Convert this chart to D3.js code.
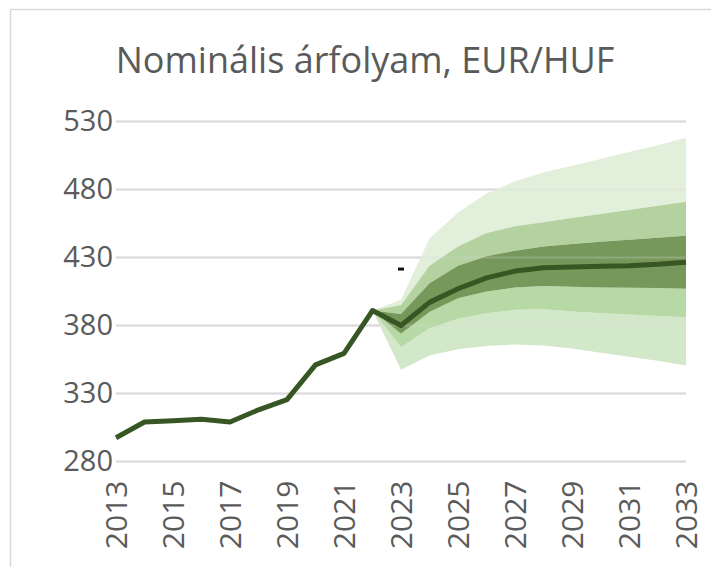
<!DOCTYPE html>
<html>
<head>
<meta charset="utf-8">
<script src="https://cdn.jsdelivr.net/npm/d3@7"></script>
<style>
  body { margin: 0; background: #fff; }
  svg { display: block; font-family: "Open Sans", sans-serif; }
</style>
</head>
<body>
<svg id="chart"></svg>
<script>
// Data
const title = "Nominális árfolyam, EUR/HUF";
const years = d3.range(2013, 2034);
const rate = [297.5, 309, 310, 311, 309, 318, 325.5, 351, 359.5, 391, 380, 397, 407, 415, 420, 422.5, 423, 423.5, 424, 425, 426.5];
const fanYears = [2022, 2023, 2024, 2025, 2026, 2027, 2028, 2029, 2030, 2031, 2032, 2033];
const lo3 = [391, 347.5, 358, 362.5, 365, 366, 365.3, 363, 360, 357, 354, 350.5];
const lo2 = [391, 364, 378, 385, 389, 391.5, 392, 390.3, 389, 388, 387, 386];
const lo1 = [391, 374, 390, 400, 405, 408, 409, 408.5, 408, 407.7, 407.5, 407];
const hi1 = [391, 388.5, 411, 424, 431, 435, 438, 440, 441.5, 443, 444.5, 446];
const hi2 = [391, 395, 424, 438, 448, 453, 456, 459, 462, 465, 468, 471];
const hi3 = [391, 399, 444, 463, 477, 486, 492.5, 497.5, 502.5, 507.5, 512.5, 518];
const stray = [{year: 2023, value: 421.5}];   // small black dash in the source
const yTicks = [280, 330, 380, 430, 480, 530];
const xTicks = d3.range(2013, 2034, 2);

const W = 711, H = 567;
const margin = {top: 121.5, right: 25, bottom: 105.5, left: 116};

const svg = d3.select("#chart").attr("width", W).attr("height", H);

// outer frame (cut by the window on the right and bottom)
svg.append("rect")
    .attr("x", 10.5).attr("y", 9.5)
    .attr("width", W + 20).attr("height", H + 20)
    .attr("fill", "none").attr("stroke", "#d9d9d9").attr("stroke-width", 1.5);

svg.append("text")
    .attr("x", 365).attr("y", 73)
    .attr("text-anchor", "middle")
    .attr("fill", "#5a5a5a")
    .style("font-size", "36px")
    .text(title);

const x = d3.scaleLinear().domain([2013, 2033]).range([margin.left, W - margin.right]);
const y = d3.scaleLinear().domain([280, 530]).range([H - margin.bottom, margin.top]);

// Gridlines
svg.append("g")
    .selectAll("line")
    .data(yTicks)
    .join("line")
    .attr("x1", x(2013)).attr("x2", x(2033))
    .attr("y1", d => y(d)).attr("y2", d => y(d))
    .attr("stroke", "#d9d9d9").attr("stroke-width", 2);

// Y axis labels
const yAxis = svg.append("g")
    .attr("transform", "translate(" + (margin.left - 3) + ",0)")
    .call(d3.axisLeft(y).tickValues(yTicks).tickSize(0).tickPadding(0));
yAxis.select(".domain").remove();
yAxis.selectAll("text").attr("fill", "#5a5a5a").style("font-size", "29px")
    .style("font-family", "'Open Sans', sans-serif");

// X axis labels (rotated)
const xAxis = svg.append("g")
    .attr("transform", "translate(0," + (y(280) + 19) + ")")
    .call(d3.axisBottom(x).tickValues(xTicks).tickFormat(d3.format("d")).tickSize(0).tickPadding(0));
xAxis.select(".domain").remove();
xAxis.selectAll("text")
    .attr("fill", "#5a5a5a").style("font-size", "30px")
    .style("font-family", "'Open Sans', sans-serif")
    .attr("transform", "rotate(-90)")
    .attr("text-anchor", "end")
    .attr("x", 0).attr("y", 0).attr("dy", "0.35em");

// Fan bands
const fan = fanYears.map((yr, i) => ({yr, lo3: lo3[i], lo2: lo2[i], lo1: lo1[i], hi1: hi1[i], hi2: hi2[i], hi3: hi3[i]}));
const bands = [
  {a: "hi2", b: "hi3", color: "#e2efda"},
  {a: "hi1", b: "hi2", color: "#b4d2a0"},
  {a: "lo2", b: "lo3", color: "#d3e8c9"},
  {a: "lo1", b: "lo2", color: "#b7d9a5"},
  {a: "lo1", b: "hi1", color: "#76995b"}
];
svg.append("g")
    .selectAll("path")
    .data(bands)
    .join("path")
    .attr("fill", d => d.color)
    .attr("d", b => d3.area()
        .x(d => x(d.yr))
        .y0(d => y(d[b.a]))
        .y1(d => y(d[b.b]))(fan));

// Gridlines faintly through the bands
svg.append("g")
    .selectAll("line")
    .data(yTicks)
    .join("line")
    .attr("x1", x(2013)).attr("x2", x(2033))
    .attr("y1", d => y(d)).attr("y2", d => y(d))
    .attr("stroke", "#d9d9d9").attr("stroke-width", 2).attr("opacity", 0.25);

// Main line
svg.append("path")
    .datum(years.map((yr, i) => [yr, rate[i]]))
    .attr("fill", "none")
    .attr("stroke", "#375623")
    .attr("stroke-width", 5)
    .attr("stroke-linejoin", "round")
    .attr("d", d3.line().x(d => x(d[0])).y(d => y(d[1])));

// stray dash
svg.append("g")
    .selectAll("rect")
    .data(stray)
    .join("rect")
    .attr("x", d => x(d.year) - 3).attr("y", d => y(d.value) - 1.5)
    .attr("width", 6).attr("height", 3)
    .attr("fill", "#111");
</script>
</body>
</html>
